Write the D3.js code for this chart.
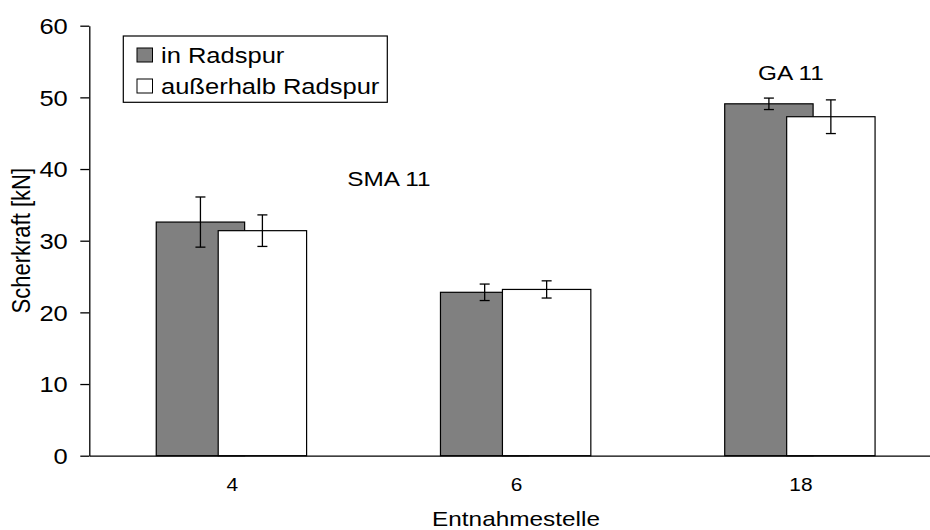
<!DOCTYPE html>
<html>
<head>
<meta charset="utf-8">
<script src="https://cdn.jsdelivr.net/npm/d3@7"></script>
<style>
  html, body { margin: 0; padding: 0; background: #fff; }
  svg { display: block; font-family: "Liberation Sans", Arial, sans-serif; }
</style>
</head>
<body>
<svg id="chart" width="930" height="530"></svg>
<script>
// Sampling points and measured shear force (mean and spread), kN
const categories = ["4", "6", "18"];
const inRadspur = [32.6, 22.8, 49.1];
const inRadspurErr = [3.5, 1.15, 0.8];
const ausserhalb = [31.4, 23.2, 47.3];
const ausserhalbErr = [2.2, 1.2, 2.35];
const yTicks = [0, 10, 20, 30, 40, 50, 60];
const seriesNames = ["in Radspur", "außerhalb Radspur"];
const seriesColors = ["#808080", "#ffffff"];

const svg = d3.select("#chart");
const sx = 1.16; // horizontal text stretch

const plot = { left: 89.3, right: 942, top: 25.7, bottom: 455.7 };

const x = d3.scaleBand().domain(categories).range([plot.left, plot.right]).padding(0);
const y = d3.scaleLinear().domain([0, 60]).range([plot.bottom, plot.top]);

const barW = x.step() * 0.311;
const offset = x.step() * 0.109;
const center = c => x(c) + x.bandwidth() / 2;

const series = [
  { name: seriesNames[0], values: inRadspur, errs: inRadspurErr, color: seriesColors[0], dx: -offset },
  { name: seriesNames[1], values: ausserhalb, errs: ausserhalbErr, color: seriesColors[1], dx: offset }
];

// bars (second series drawn on top of the first, overlapping)
series.forEach(s => {
  svg.append("g").selectAll("rect")
    .data(categories)
    .join("rect")
    .attr("x", (c) => center(c) + s.dx - barW / 2)
    .attr("y", (c, i) => y(s.values[i]))
    .attr("width", barW)
    .attr("height", (c, i) => y(0) - y(s.values[i]))
    .attr("fill", s.color)
    .attr("stroke", "#000")
    .attr("stroke-width", 1.2);
});

// error bars
series.forEach(s => {
  const g = svg.append("g").attr("stroke", "#000").attr("stroke-width", 1.3);
  categories.forEach((c, i) => {
    const cx = center(c) + s.dx;
    const hi = y(s.values[i] + s.errs[i]);
    const lo = y(s.values[i] - s.errs[i]);
    g.append("line").attr("x1", cx).attr("x2", cx).attr("y1", hi).attr("y2", lo);
    g.append("line").attr("x1", cx - 5).attr("x2", cx + 5).attr("y1", hi).attr("y2", hi);
    g.append("line").attr("x1", cx - 5).attr("x2", cx + 5).attr("y1", lo).attr("y2", lo);
  });
});

// y axis
const yAxis = svg.append("g")
  .attr("transform", `translate(${plot.left},0)`)
  .call(d3.axisLeft(y).tickValues(yTicks).tickSize(9).tickSizeOuter(0));
yAxis.select(".domain").attr("stroke", "#000").attr("stroke-width", 1.3);
yAxis.selectAll(".tick line").attr("stroke", "#000").attr("stroke-width", 1.3);
yAxis.selectAll(".tick text")
  .attr("x", 0)
  .attr("dy", "0.36em")
  .attr("transform", `translate(-21.5,0) scale(${sx},1)`)
  .attr("fill", "#000")
  .style("font-size", "22px")
  .style("font-family", "'Liberation Sans', Arial, sans-serif");

// x axis (no tick marks)
const xAxis = svg.append("g")
  .attr("transform", `translate(0,${plot.bottom})`)
  .call(d3.axisBottom(x).tickSize(0).tickSizeOuter(0));
xAxis.select(".domain").attr("stroke", "#000").attr("stroke-width", 1.3);
xAxis.selectAll(".tick text")
  .attr("y", 0)
  .attr("dy", 0)
  .attr("transform", `translate(1,35) scale(${sx},1)`)
  .attr("fill", "#000")
  .style("font-size", "18px")
  .style("font-family", "'Liberation Sans', Arial, sans-serif");

// axis titles
svg.append("text")
  .attr("transform", `translate(516,525.5) scale(${sx},1)`)
  .attr("text-anchor", "middle")
  .style("font-size", "21px")
  .text("Entnahmestelle");

svg.append("text")
  .attr("transform", `translate(29.5,${(plot.top + plot.bottom) / 2}) scale(${sx},1) rotate(-90)`)
  .attr("text-anchor", "middle")
  .style("font-size", "22px")
  .text("Scherkraft [kN]");

// mix type annotations
svg.append("text")
  .attr("transform", `translate(${center("4") + x.step() * 0.554},${y(37.7)}) scale(${sx},1)`)
  .attr("text-anchor", "middle")
  .style("font-size", "21px")
  .text("SMA 11");

svg.append("text")
  .attr("transform", `translate(${center("18") - 9},${y(52.4)}) scale(${sx},1)`)
  .attr("text-anchor", "middle")
  .style("font-size", "21px")
  .text("GA 11");

// legend
const legend = svg.append("g");
legend.append("rect")
  .attr("x", 123.3).attr("y", 36).attr("width", 264).attr("height", 66.3)
  .attr("fill", "#fff").attr("stroke", "#000").attr("stroke-width", 1.2);
series.forEach((s, i) => {
  const ly = 48 + i * 31;
  legend.append("rect")
    .attr("x", 137).attr("y", ly).attr("width", 15.5).attr("height", 14)
    .attr("fill", s.color).attr("stroke", "#000").attr("stroke-width", 1);
  legend.append("text")
    .attr("transform", `translate(161,${ly + 14.6}) scale(${sx},1)`)
    .style("font-size", "22px")
    .text(s.name);
});
</script>
</body>
</html>
